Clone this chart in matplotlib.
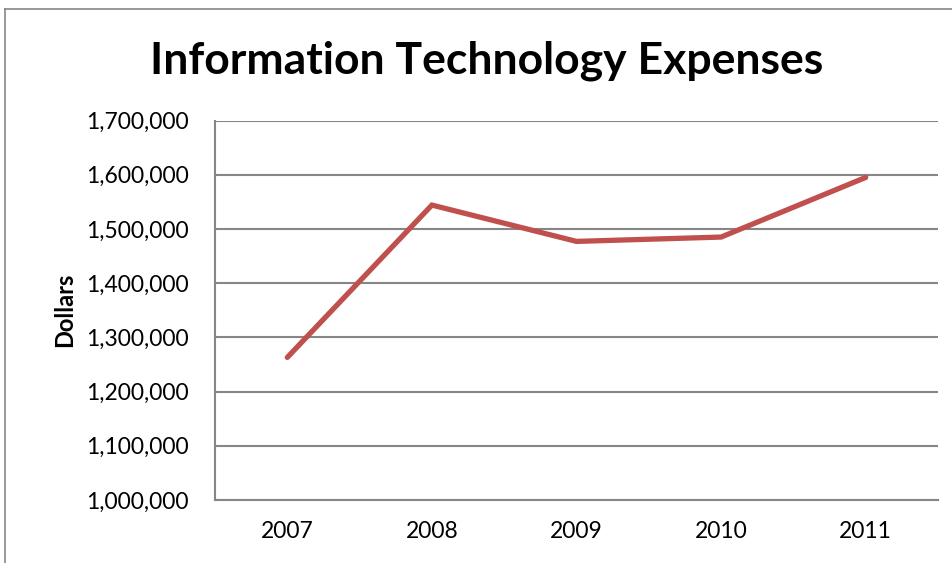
import matplotlib
matplotlib.use("Agg")
import matplotlib.pyplot as plt
from matplotlib.ticker import FuncFormatter
from matplotlib.lines import Line2D

years = ["2007", "2008", "2009", "2010", "2011"]
expenses = [1263000, 1544000, 1477000, 1485000, 1595000]
y_ticks = [1000000, 1100000, 1200000, 1300000, 1400000, 1500000, 1600000, 1700000]

plt.rcParams['font.family'] = ['Lato', 'DejaVu Sans']

W, H = 953, 563
fig = plt.figure(figsize=(W / 100, H / 100), dpi=100)
fig.patch.set_facecolor("white")

# outer chart border (partially clipped, as in reference)
gray = "#868686"
fig.add_artist(Line2D([4.5 / W, 4.5 / W], [0, 1 - 8.5 / H], transform=fig.transFigure, color=gray, lw=1.2))
fig.add_artist(Line2D([4.5 / W, 1], [1 - 8.5 / H, 1 - 8.5 / H], transform=fig.transFigure, color=gray, lw=1.2))

ax = fig.add_axes([215 / W, (H - 500) / H, (938 - 215) / W, (500 - 120.5) / H])
x = list(range(len(years)))
ax.plot(x, expenses, color="#C0504D", lw=3.8, solid_capstyle="round", solid_joinstyle="miter", zorder=3)

ax.set_xlim(-0.5, len(years) - 0.5)
ax.set_ylim(y_ticks[0], y_ticks[-1])
ax.set_yticks(y_ticks)
ax.yaxis.set_major_formatter(FuncFormatter(lambda v, p: f"{int(v):,}"))
ax.set_xticks(x)
ax.set_xticklabels(years)
ax.tick_params(axis="both", length=0, labelsize=16.5, colors="black")
ax.tick_params(axis="y", pad=19)
ax.tick_params(axis="x", pad=15)

ax.grid(axis="y", color=gray, lw=1.5)
ax.set_axisbelow(True)
for s in ["top", "right"]:
    ax.spines[s].set_visible(False)
for s in ["left", "bottom"]:
    ax.spines[s].set_color(gray)
    ax.spines[s].set_linewidth(1.5)

ax.set_ylabel("Dollars", fontsize=17, fontweight="bold", labelpad=7)

fig.text(487 / W, 1 - 61 / H, "Information Technology Expenses", ha="center", va="center",
         fontsize=32, fontweight="bold")

fig.savefig("out.png", dpi=100)
